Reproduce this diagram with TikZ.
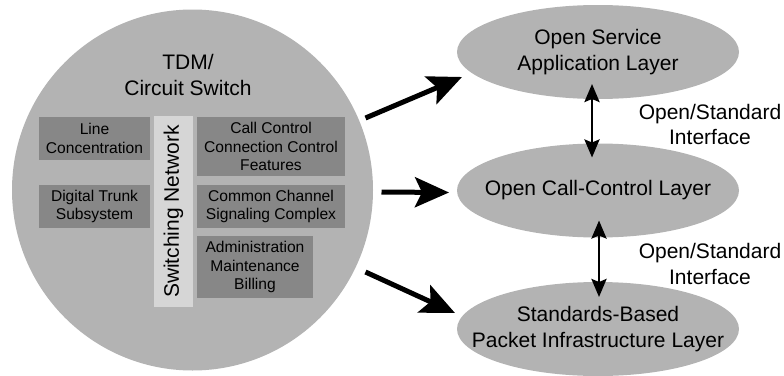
\documentclass[tikz,border=0pt]{standalone}
\usepackage{fontspec}
\setmainfont{Liberation Sans}
\usetikzlibrary{arrows.meta,shapes.geometric}
\definecolor{circfill}{RGB}{179,179,179}
\definecolor{boxfill}{RGB}{135,135,135}
\definecolor{colfill}{RGB}{214,214,214}
\definecolor{txt}{RGB}{0,0,0}
\tikzset{
  bigfont/.style={font=\fontsize{21}{25.5}\selectfont, text=txt},
  boxfont/.style={font=\fontsize{15.6}{18.4}\selectfont, text=txt},
  compbox/.style={fill=boxfill, draw=none, inner sep=0pt, boxfont, align=center},
  layer/.style={ellipse, fill=circfill, draw=none, minimum width=282pt, minimum height=94pt, inner sep=0pt},
  layertext/.style={bigfont, align=center, inner sep=0pt},
  bigarrow/.style={line width=5pt, -{Stealth[length=34pt,width=30pt,inset=7pt]}},
  dblarrow/.style={line width=2.8pt, {Stealth[length=18pt,width=15pt,inset=3pt]}-{Stealth[length=18pt,width=15pt,inset=3pt]}},
}
\begin{document}
\begin{tikzpicture}[x=1pt,y=-1pt]
\useasboundingbox (0,0) rectangle (784,375);
% main circle
\node[circle, fill=circfill, draw=none, minimum size=361pt, inner sep=0pt] (sw) at (192.5,190) {};
\node[bigfont, align=center] (tdm) at (188,75) {TDM/\\Circuit Switch};
% component boxes
\node[compbox, minimum width=111pt, minimum height=43pt] (lc) at (94.5,138.5) {Line\\Concentration};
\node[compbox, minimum width=111pt, minimum height=43pt] (dt) at (94.5,206.5) {Digital Trunk\\Subsystem};
\node[fill=colfill, draw=none, inner sep=0pt, minimum width=39pt, minimum height=191pt] (snbox) at (173.5,211.5) {};
\node[bigfont, rotate=90] (sn) at (173.5,211.5) {Switching Network};
\node[compbox, minimum width=148pt, minimum height=59pt] (cc) at (271,146.5) {Call Control\\Connection Control\\Features};
\node[compbox, minimum width=148pt, minimum height=43pt] (ccs) at (271,206.5) {Common Channel\\Signaling Complex};
\node[compbox, minimum width=116pt, minimum height=62pt] (adm) at (255,267) {Administration\\Maintenance\\Billing};
% layers
\node[layer] (osa) at (598,52) {};
\node[layertext] (osat) at (osa.center) {Open Service\\Application Layer};
\node[layer] (occ) at (598,190.5) {};
\node[layertext] (occt) at (occ.center) {Open Call-Control Layer};
\node[layer] (pil) at (598,329) {};
\node[layertext] (pilt) at (pil.center) {Standards-Based\\Packet Infrastructure Layer};
% interface labels
\node[bigfont, align=center] (if1) at (710,124.5) {Open/Standard\\Interface};
\node[bigfont, align=center] (if2) at (710,264) {Open/Standard\\Interface};
% arrows
\draw[bigarrow] ([shift={(173,-72)}]sw.center) -- ([shift={(-136,25)}]osa.center);
\draw[bigarrow] ([shift={(189,2)}]sw.center) -- ([shift={(-149,2)}]occ.center);
\draw[bigarrow] ([shift={(173,82)}]sw.center) -- ([shift={(-143,-16)}]pil.center);
\draw[dblarrow] ([shift={(-6,32)}]osa.center) -- ([shift={(-6,-33)}]occ.center);
\draw[dblarrow] ([shift={(1,30)}]occ.center) -- ([shift={(1,-32)}]pil.center);
\end{tikzpicture}
\end{document}
